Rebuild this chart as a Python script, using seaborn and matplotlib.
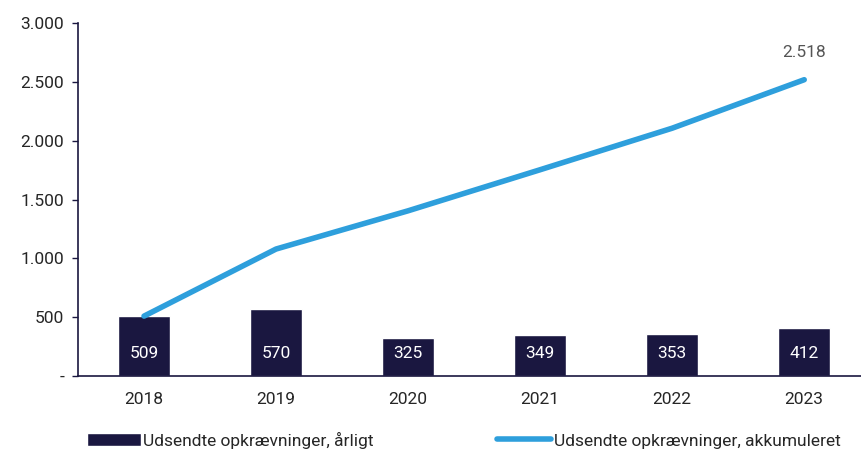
import matplotlib as mpl
mpl.use("Agg")
import matplotlib.pyplot as plt
import pandas as pd
import seaborn as sns

years = ["2018", "2019", "2020", "2021", "2022", "2023"]
annual = [509, 570, 325, 349, 353, 412]
cumulative = [509, 1079, 1404, 1753, 2106, 2518]
bar_label = "Udsendte opkrævninger, årligt"
line_label = "Udsendte opkrævninger, akkumuleret"

sns.set_style("white")
plt.rcParams["font.family"] = ["Roboto", "DejaVu Sans"]

navy = "#1a1740"
blue = "#2e9fdc"

df = pd.DataFrame({"year": years, "annual": annual, "cumulative": cumulative})

fig = plt.figure(figsize=(8.61, 4.5), dpi=100)
ax = fig.add_axes([78 / 861, 1 - 376 / 450, (861 - 78) / 861, (376 - 23) / 450])

sns.barplot(data=df, x="year", y="annual", color=navy, width=0.39,
            saturation=1, ax=ax, label=bar_label)
sns.lineplot(data=df, x="year", y="cumulative", color=blue, linewidth=4,
             ax=ax, label=line_label, solid_capstyle="round")

for i, v in enumerate(annual):
    ax.text(i, 195, f"{v}", ha="center", va="center", color="white", fontsize=12.5)
ax.text(len(years) - 1, cumulative[-1] + 170, f"{cumulative[-1]:,}".replace(",", "."),
        ha="center", va="bottom", color="#555555", fontsize=12.5)

ax.set_ylim(0, 3000)
ax.set_xlim(-0.5, 5.43)
ax.set_yticks(range(0, 3001, 500))
ax.yaxis.set_major_formatter(
    mpl.ticker.FuncFormatter(lambda v, p: "-" if v == 0 else f"{int(v):,}".replace(",", "."))
)
ax.tick_params(axis="y", left=True, length=4, width=1, color=navy, labelsize=12.5, pad=6)
ax.tick_params(axis="x", bottom=False, labelsize=12.5, pad=8)
for s in ["top", "right"]:
    ax.spines[s].set_visible(False)
for s in ["left", "bottom"]:
    ax.spines[s].set_color(navy)
    ax.spines[s].set_linewidth(1.2)
ax.set_xlabel("")
ax.set_ylabel("")

h, l = ax.get_legend_handles_labels()
order = [l.index(bar_label), l.index(line_label)]
ax.get_legend().remove()
fig.legend([h[i] for i in order], [l[i] for i in order], loc="center left",
           bbox_to_anchor=(80 / 861, 1 - 440 / 450), ncol=2, frameon=False,
           fontsize=12.5, handlelength=3.1, columnspacing=7.1, handletextpad=0.15,
           borderaxespad=0)

fig.savefig("out.png", dpi=100)
